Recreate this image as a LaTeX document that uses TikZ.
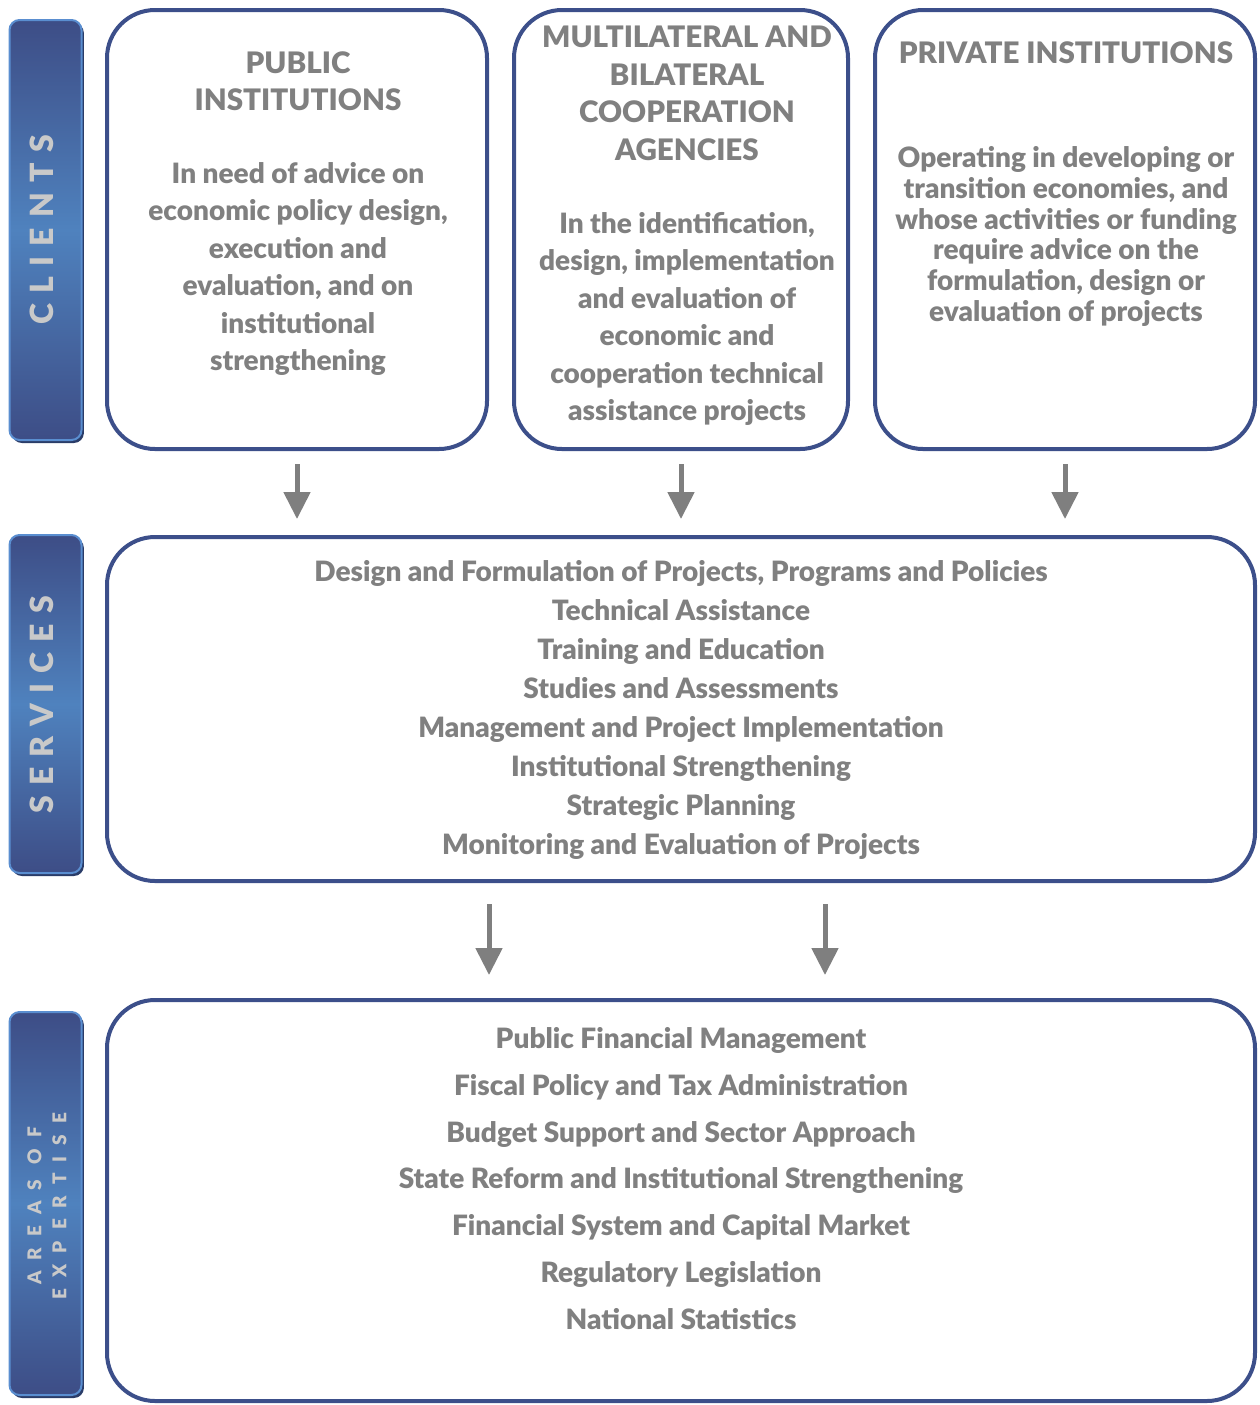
\documentclass[tikz,border=0pt]{standalone}
\usepackage{fontspec}
\setmainfont{Lato}[BoldFont={Lato Black}]
\usetikzlibrary{arrows.meta,shadows}
\definecolor{boxblue}{HTML}{3C4F8A}
\definecolor{txt}{HTML}{808080}
\definecolor{bardark}{HTML}{3D4D86}
\definecolor{barlight}{HTML}{4F82BE}
\definecolor{barborder}{HTML}{5A8ED0}
\definecolor{barshadow}{HTML}{2A3C68}
\definecolor{bartext}{HTML}{C9C9C9}
\definecolor{arrowgray}{HTML}{7F7F7F}
\begin{document}
\begin{tikzpicture}[x=0.5pt,y=-0.5pt,
  box/.style={draw=boxblue, line width=2pt, rounded corners=24pt, inner sep=0},
  bar/.style={rounded corners=5pt, draw=barborder, line width=1pt,
    top color=bardark, bottom color=bardark, middle color=barlight,
    drop shadow={shadow xshift=1.2pt, shadow yshift=-1.5pt, fill=barshadow, opacity=1},
    minimum width=36pt, inner sep=0},
  bartxt/.style={rotate=90, text=bartext, inner sep=0,
    font=\fontsize{16}{16}\selectfont\bfseries\addfontfeature{LetterSpace=32}},
  title/.style={anchor=north, inner sep=0, align=center, text=txt,
    font=\fontsize{14.8}{18.7}\selectfont\bfseries},
  body/.style={anchor=north, inner sep=0, align=center, text=txt,
    font=\fontsize{14}{18.7}\selectfont\bfseries},
  arr/.style={draw=arrowgray, line width=2.5pt, -{Triangle[length=13.5pt,width=13pt]}}
]
\useasboundingbox (0,0) rectangle (1260,1405);

% side bars
\node[bar, minimum height=210pt] (bclients) at (45.5,230) {};
\node[bar, minimum height=169pt] (bservices) at (45.5,704) {};
\node[bar, minimum height=191.5pt] (bareas) at (45.5,1203.5) {};
\node[bartxt] (lclients) at (42,230) {CLIENTS};
\node[bartxt] (lservices) at (42,705) {SERVICES};
\node[rotate=90, text=bartext, inner sep=0, align=center,
  font=\fontsize{9.5}{12.5}\selectfont\bfseries\addfontfeature{LetterSpace=58}] (lareas) at (47,1206) {AREAS OF\\EXPERTISE};

% boxes
\node[box, minimum width=190pt, minimum height=219.5pt] (pub) at (297,229.5) {};
\node[box, minimum width=167pt, minimum height=219.5pt] (multi) at (681,229.5) {};
\node[box, minimum width=190pt, minimum height=219.5pt] (priv) at (1065,229.5) {};
\node[box, minimum width=574pt, minimum height=172pt] (serv) at (681,709) {};
\node[box, minimum width=574pt, minimum height=200.5pt] (areas) at (681,1200.5) {};

% texts
\node[title] (tpub) at (298,51) {PUBLIC\\INSTITUTIONS};
\node[body] (xpub) at (298,162) {In need of advice on\\economic policy design,\\execution and\\evaluation, and on\\institutional\\strengthening};
\node[title] (tmulti) at (687,26) {MULTILATERAL AND\\BILATERAL\\COOPERATION\\AGENCIES};
\node[body] (xmulti) at (687,212) {In the identification,\\design, implementation\\and evaluation of\\economic and\\cooperation technical\\assistance projects};
\node[title] (tpriv) at (1066,41) {PRIVATE INSTITUTIONS};
\node[body, font=\fontsize{14}{15.4}\selectfont\bfseries] (xpriv) at (1066,146) {Operating in developing or\\transition economies, and\\whose activities or funding\\require advice on the\\formulation, design or\\evaluation of projects};
\node[body, font=\fontsize{14}{19.5}\selectfont\bfseries] (xserv) at (681,560) {Design and Formulation of Projects, Programs and Policies\\Technical Assistance\\Training and Education\\Studies and Assessments\\Management and Project Implementation\\Institutional Strengthening\\Strategic Planning\\Monitoring and Evaluation of Projects};
\node[body, font=\fontsize{14}{23.4}\selectfont\bfseries] (xareas) at (681,1027) {Public Financial Management\\Fiscal Policy and Tax Administration\\Budget Support and Sector Approach\\State Reform and Institutional Strengthening\\Financial System and Capital Market\\Regulatory Legislation\\National Statistics};

% arrows
\draw[arr, shorten <=6.5pt, shorten >=8pt] (pub.south) -- (pub.south |- serv.north);
\draw[arr, shorten <=6.5pt, shorten >=8pt] (multi.south) -- (multi.south |- serv.north);
\draw[arr, shorten <=6.5pt, shorten >=8pt] (priv.south) -- (priv.south |- serv.north);
\coordinate (ca) at (489,0);
\coordinate (cb) at (825,0);
\draw[arr, shorten <=10.5pt, shorten >=11.5pt] (serv.south -| ca) -- (areas.north -| ca);
\draw[arr, shorten <=10.5pt, shorten >=11.5pt] (serv.south -| cb) -- (areas.north -| cb);
\end{tikzpicture}
\end{document}
